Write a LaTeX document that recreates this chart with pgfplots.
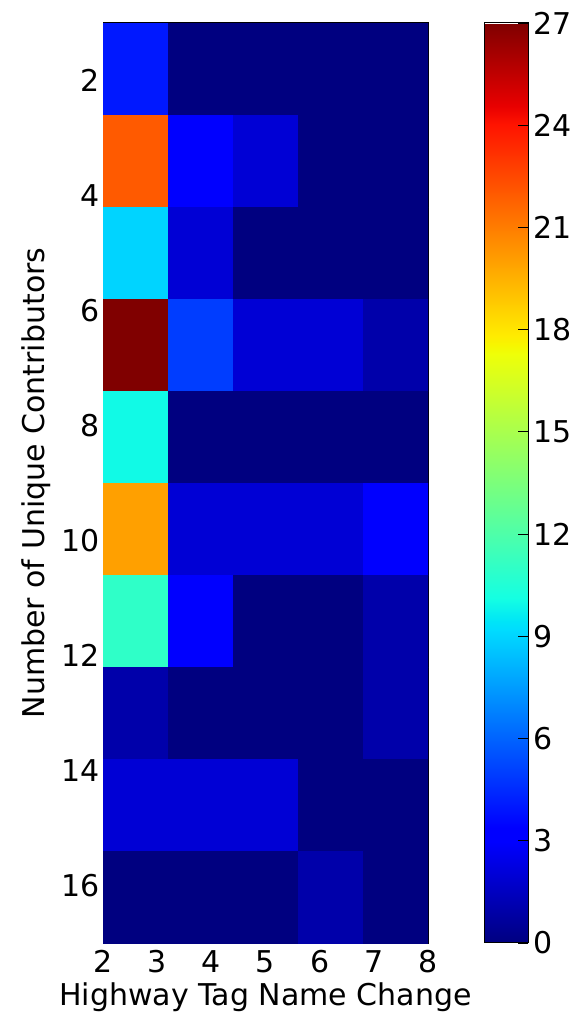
\documentclass[border=0pt]{standalone}
\usepackage{fontspec}
\setmainfont{DejaVu Sans}
\usepackage{pgfplots}
\usepackage{pgfplotstable}
\pgfplotsset{compat=1.18}
\pgfplotstableread{
x y c
2.6 1.8 4
3.8 1.8 0
5.0 1.8 0
6.2 1.8 0
7.4 1.8 0
2.6 3.4 22
3.8 3.4 3
5.0 3.4 2
6.2 3.4 0
7.4 3.4 0
2.6 5.0 9
3.8 5.0 2
5.0 5.0 0
6.2 5.0 0
7.4 5.0 0
2.6 6.6 27
3.8 6.6 5
5.0 6.6 2
6.2 6.6 2
7.4 6.6 1
2.6 8.2 10
3.8 8.2 0
5.0 8.2 0
6.2 8.2 0
7.4 8.2 0
2.6 9.8 20
3.8 9.8 2
5.0 9.8 2
6.2 9.8 2
7.4 9.8 3
2.6 11.4 11
3.8 11.4 3
5.0 11.4 0
6.2 11.4 0
7.4 11.4 1
2.6 13.0 1
3.8 13.0 0
5.0 13.0 0
6.2 13.0 0
7.4 13.0 1
2.6 14.6 2
3.8 14.6 2
5.0 14.6 2
6.2 14.6 0
7.4 14.6 0
2.6 16.2 0
3.8 16.2 0
5.0 16.2 0
6.2 16.2 1
7.4 16.2 0
}\histdata
\pgfplotsset{
  tick label style={font=\fontsize{30}{36}\selectfont},
  label style={font=\fontsize{30}{36}\selectfont},
  /pgf/number format/assume math mode=true,
  major tick length=10pt,
  tick align=inside,
  every tick/.style={black, line width=0.8pt},
  axis line style={line width=1pt},
}
\begin{document}
\begin{tikzpicture}
\useasboundingbox (0,0) rectangle (573pt,1017pt);
\begin{axis}[
  at={(265.5pt,534pt)}, anchor=center,
  width=325pt, height=920pt, scale only axis,
  xmin=2, xmax=8, ymin=1, ymax=17, y dir=reverse,
  xtick={2,3,...,8}, ytick={2,4,...,16},
  xticklabel style={yshift=-4pt},
  xlabel={Highway Tag Name Change},
  ylabel={Number of Unique Contributors},
  xlabel style={yshift=-3pt},
  ylabel style={yshift=4pt},
  colormap={mpljet}{rgb(0pt)=(0,0,0.5); rgb(22pt)=(0,0,1); rgb(25pt)=(0,0,1); rgb(68pt)=(0,0.86,1); rgb(70pt)=(0,0.9,0.968); rgb(75pt)=(0.081,1,0.887); rgb(128pt)=(0.935,1,0.032); rgb(130pt)=(0.968,0.963,0); rgb(132pt)=(1,0.926,0); rgb(178pt)=(1,0.074,0); rgb(182pt)=(0.909,0,0); rgb(200pt)=(0.5,0,0)},
  point meta min=0, point meta max=27,
  colorbar,
  colorbar/width=44pt,
  colorbar style={
    at={(parent axis.north east)}, anchor=north west, xshift=47.5pt,
    width=44pt,
    ytick={0,3,...,27},
    ytick pos=right, yticklabel pos=right,
    yticklabel style={xshift=2pt},
    tick align=inside, ytick align=inside,
  },
]
\addplot[matrix plot*, mesh/cols=5, mesh/rows=10, point meta=explicit] table[x=x,y=y,meta=c]{\histdata};
\end{axis}
\end{tikzpicture}
\end{document}
